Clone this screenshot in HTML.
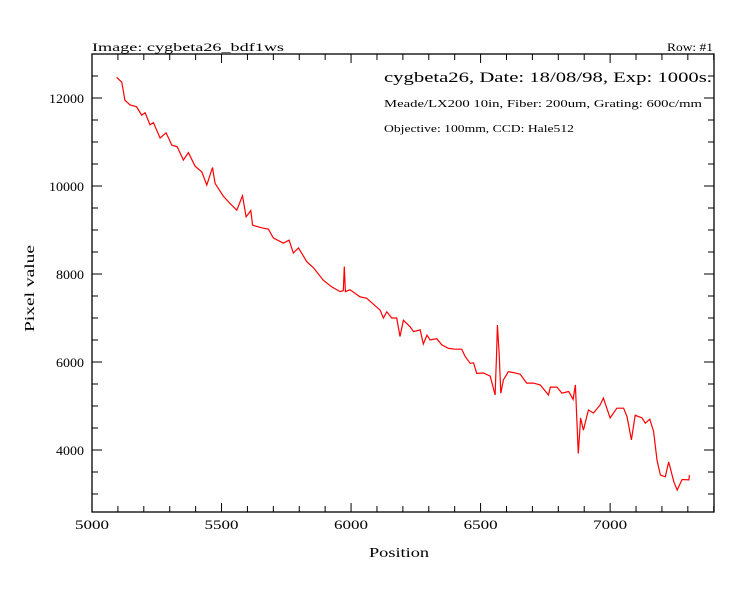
<!DOCTYPE html>
<html><head><meta charset="utf-8"><style>
body{margin:0;background:#fff;}
svg text{font-family:"Liberation Serif",serif;fill:#000;}
</style></head><body>
<svg id="chart" width="734" height="588">
<rect x="0" y="0" width="734" height="588" fill="#fff"/>
<g id="axes"></g>
<polyline id="series" fill="none" stroke="#ff0000" stroke-width="1.2"/>
<text x="92" y="51" font-size="12" textLength="192" lengthAdjust="spacingAndGlyphs">Image: cygbeta26_bdf1ws</text>
<text x="713" y="51" font-size="12" text-anchor="end" textLength="46" lengthAdjust="spacingAndGlyphs">Row: #1</text>
<text x="384" y="82" font-size="15" textLength="328" lengthAdjust="spacingAndGlyphs">cygbeta26, Date: 18/08/98, Exp: 1000s.</text>
<text x="384" y="107" font-size="11" textLength="318" lengthAdjust="spacingAndGlyphs">Meade/LX200 10in, Fiber: 200um, Grating: 600c/mm</text>
<text x="384" y="132" font-size="11" textLength="190" lengthAdjust="spacingAndGlyphs">Objective: 100mm, CCD: Hale512</text>
<text x="369" y="557" font-size="14" textLength="60" lengthAdjust="spacingAndGlyphs">Position</text>
<text x="0" y="0" font-size="14" textLength="87" lengthAdjust="spacingAndGlyphs" transform="translate(34,332) rotate(-90)">Pixel value</text>
</svg>
<script>
const xTicks=[5000,5500,6000,6500,7000];
const yTicks=[4000,6000,8000,10000,12000];
const wavelengths=[5095,5115,5127,5147,5172,5192,5205,5224,5237,5263,5286,5308,5329,5353,5372,5398,5424,5443,5465,5475,5507,5533,5559,5581,5595,5613,5620,5655,5681,5700,5739,5761,5777,5797,5829,5855,5893,5925,5958,5970,5974,5978,5996,6035,6060,6112,6125,6138,6157,6176,6189,6202,6228,6241,6267,6279,6293,6305,6331,6350,6376,6401,6427,6441,6460,6473,6485,6511,6537,6556,6562,6565,6572,6578,6588,6607,6627,6653,6678,6704,6730,6762,6769,6795,6814,6840,6857,6866,6871,6877,6886,6897,6916,6936,6961,6974,7000,7026,7052,7065,7082,7097,7123,7136,7153,7168,7181,7194,7213,7226,7246,7259,7278,7304,7306];
const pixelValues=[12470,12360,11950,11840,11800,11610,11665,11390,11440,11090,11210,10930,10890,10590,10760,10450,10320,10020,10420,10060,9770,9600,9450,9780,9300,9440,9110,9050,9020,8820,8700,8770,8480,8590,8280,8140,7860,7710,7600,7620,8170,7600,7640,7480,7450,7180,7000,7140,7000,7000,6580,6950,6800,6690,6730,6410,6610,6500,6530,6390,6310,6290,6290,6120,5970,5980,5740,5750,5680,5250,6200,6840,6170,5290,5590,5780,5760,5720,5520,5520,5480,5250,5430,5430,5290,5330,5150,5480,4760,3920,4730,4450,4910,4840,5020,5180,4730,4950,4950,4760,4230,4790,4730,4610,4700,4420,3770,3430,3390,3730,3280,3090,3330,3320,3430];
const X0=92,X1=714,Y0=54,Y1=512,XMIN=5000,XMAX=7401,YMIN=2591,YMAX=13000;
function sx(v){return X0+(v-XMIN)/(XMAX-XMIN)*(X1-X0);}
function sy(v){return Y1-(v-YMIN)/(YMAX-YMIN)*(Y1-Y0);}
const NS="http://www.w3.org/2000/svg";
const axes=document.getElementById('axes');
function ln(x1,y1,x2,y2,name){const l=document.createElementNS(NS,'line');l.setAttribute('x1',x1);l.setAttribute('y1',y1);l.setAttribute('x2',x2);l.setAttribute('y2',y2);l.setAttribute('stroke','#000');l.setAttribute('stroke-width','1');


axes.appendChild(l);}
const fr=document.createElementNS(NS,'rect');fr.setAttribute('x',X0);fr.setAttribute('y',Y0);fr.setAttribute('width',X1-X0);fr.setAttribute('height',Y1-Y0);fr.setAttribute('fill','none');fr.setAttribute('stroke','#000');fr.setAttribute('stroke-width','1.3');


axes.appendChild(fr);
for(let v=5100;v<XMAX;v+=100){const x=sx(v);const maj=v%500===0;const L=maj?9:6;ln(x,Y1,x,Y1-L,'x-tick');ln(x,Y0,x,Y0+L,'x-tick-top');}
for(let v=3000;v<YMAX;v+=500){const y=sy(v);const maj=v%2000===0;const L=maj?10:6;ln(X0,y,X0+L,y,'y-tick');ln(X1,y,X1-L,y,'y-tick-right');}
xTicks.forEach(v=>{const t=document.createElementNS(NS,'text');t.setAttribute('x',sx(v)-17);t.setAttribute('y',Y1+17);t.setAttribute('font-size','13');t.setAttribute('textLength','34');t.setAttribute('lengthAdjust','spacingAndGlyphs');t.textContent=v;


axes.appendChild(t);});
yTicks.forEach(v=>{const t=document.createElementNS(NS,'text');const s=String(v);const w=s.length*7;t.setAttribute('x',X0-8-w);t.setAttribute('y',sy(v)+5);t.setAttribute('font-size','13');t.setAttribute('textLength',w);t.setAttribute('lengthAdjust','spacingAndGlyphs');t.textContent=s;


axes.appendChild(t);});
document.getElementById('series').setAttribute('points',wavelengths.map((w,i)=>sx(w).toFixed(1)+','+sy(pixelValues[i]).toFixed(1)).join(' '));
</script>
</body></html>
